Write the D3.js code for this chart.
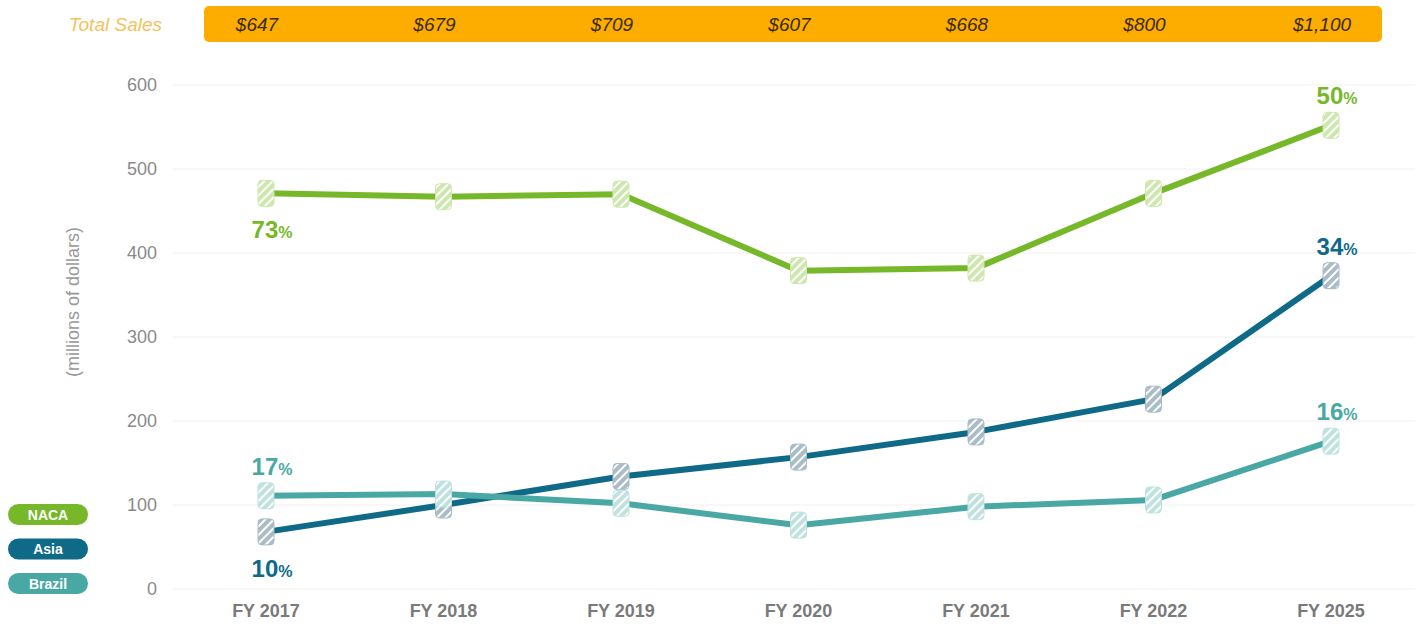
<!DOCTYPE html>
<html>
<head>
<meta charset="utf-8">
<script src="https://cdn.jsdelivr.net/npm/d3@7"></script>
<style>
  body { margin: 0; background: #fff; font-family: "Liberation Sans", Arial, sans-serif; }
</style>
</head>
<body>
<div class="canvas"></div>
<script>
var years = ['FY 2017', 'FY 2018', 'FY 2019', 'FY 2020', 'FY 2021', 'FY 2022', 'FY 2025'];
var totalSales = ['$647', '$679', '$709', '$607', '$668', '$800', '$1,100'];
var naca = [471, 467, 470, 379, 382, 471, 552];
var asia = [68, 100, 134, 157, 187, 226, 373];
var brazil = [111, 113, 102, 76, 98, 106, 176];
var yTicks = [0, 100, 200, 300, 400, 500, 600];

var series = [
  { name: 'NACA', values: naca, color: '#76b82a', light: '#cde7ae', first: '73', last: '50', firstPos: 'below', lastPos: 'above' },
  { name: 'Asia', values: asia, color: '#0e6a87', light: '#aabcc6', first: '10', last: '34', firstPos: 'below', lastPos: 'above' },
  { name: 'Brazil', values: brazil, color: '#4aa8a4', light: '#bfe2df', first: '17', last: '16', firstPos: 'above', lastPos: 'above' }
];

var width = 1423, height = 628;

var svg = d3.select('.canvas')
  .append('svg')
    .attr('width', width)
    .attr('height', height);

var x = d3.scalePoint()
  .domain(years)
  .range([266, 1331]);

var y = d3.scaleLinear()
  .domain([0, 600])
  .range([589, 85]);

// hatch patterns for the spool markers
var defs = svg.append('defs');
series.forEach(function(s, i) {
  var p = defs.append('pattern')
    .attr('id', 'hatch' + i)
    .attr('patternUnits', 'userSpaceOnUse')
    .attr('width', 6)
    .attr('height', 6)
    .attr('patternTransform', 'rotate(-45)');
  p.append('rect').attr('width', 6).attr('height', 6).attr('fill', s.light);
  p.append('line')
    .attr('x1', 0).attr('y1', 3).attr('x2', 6).attr('y2', 3)
    .attr('stroke', '#fff').attr('stroke-width', 2);
});

// grid
svg.append('g')
  .selectAll('line')
  .data(yTicks)
  .enter()
  .append('line')
    .attr('x1', 173)
    .attr('x2', 1415)
    .attr('y1', function(d) { return y(d); })
    .attr('y2', function(d) { return y(d); })
    .attr('stroke', '#f0f0f0')
    .attr('stroke-width', 1);

// y axis labels
svg.append('g')
  .selectAll('text')
  .data(yTicks)
  .enter()
  .append('text')
    .attr('x', 157)
    .attr('y', function(d) { return y(d) + 6; })
    .attr('text-anchor', 'end')
    .attr('font-size', 18)
    .attr('fill', '#8a8a8a')
    .text(function(d) { return d; });

svg.append('text')
  .attr('transform', 'translate(79,302) rotate(-90)')
  .attr('text-anchor', 'middle')
  .attr('font-size', 18)
  .attr('fill', '#999')
  .text('(millions of dollars)');

// x axis labels
svg.append('g')
  .selectAll('text')
  .data(years)
  .enter()
  .append('text')
    .attr('x', function(d) { return x(d); })
    .attr('y', 617)
    .attr('text-anchor', 'middle')
    .attr('font-size', 18)
    .attr('font-weight', 'bold')
    .attr('fill', '#7a7a7a')
    .text(function(d) { return d; });

// total sales band
svg.append('text')
  .attr('x', 162)
  .attr('y', 31)
  .attr('text-anchor', 'end')
  .attr('font-size', 19)
  .attr('font-style', 'italic')
  .attr('fill', '#f2c25c')
  .text('Total Sales');

svg.append('rect')
  .attr('x', 204)
  .attr('y', 6)
  .attr('width', 1178)
  .attr('height', 36)
  .attr('rx', 5)
  .attr('fill', '#fdad00');

svg.append('g')
  .selectAll('text')
  .data(totalSales)
  .enter()
  .append('text')
    .attr('x', function(d, i) { return x(years[i]) - 9; })
    .attr('y', 31)
    .attr('text-anchor', 'middle')
    .attr('font-size', 19)
    .attr('font-style', 'italic')
    .attr('fill', '#3a2a00')
    .text(function(d) { return d; });

// lines
var line = d3.line()
  .x(function(d, i) { return x(years[i]); })
  .y(function(d) { return y(d); });

series.forEach(function(s) {
  svg.append('path')
    .datum(s.values)
    .attr('d', line)
    .attr('fill', 'none')
    .attr('stroke', s.color)
    .attr('stroke-width', 6)
    .attr('stroke-linejoin', 'round');
});

// spool markers
series.forEach(function(s, i) {
  svg.append('g')
    .selectAll('rect')
    .data(s.values)
    .enter()
    .append('rect')
      .attr('x', function(d, j) { return x(years[j]) - 8; })
      .attr('y', function(d) { return y(d) - 13; })
      .attr('width', 16)
      .attr('height', 26)
      .attr('rx', 4)
      .attr('fill', 'url(#hatch' + i + ')')
      .attr('stroke', s.light)
      .attr('stroke-width', 1);
});

// percentage labels
function pctLabel(s, idx, txt, pos) {
  var v = s.values[idx];
  var ty = pos === 'above' ? y(v) - 21 : y(v) + 45;
  var t = svg.append('text')
    .attr('x', x(years[idx]) + 6)
    .attr('y', ty)
    .attr('text-anchor', 'middle')
    .attr('font-weight', 'bold')
    .attr('fill', s.color);
  t.append('tspan').attr('font-size', 24).text(txt);
  t.append('tspan').attr('font-size', 16).text('%');
}
series.forEach(function(s) {
  pctLabel(s, 0, s.first, s.firstPos);
  pctLabel(s, s.values.length - 1, s.last, s.lastPos);
});

// legend pills
var legend = svg.append('g')
  .selectAll('g')
  .data(series)
  .enter()
  .append('g')
    .attr('transform', function(d, i) { return 'translate(8,' + (504 + i * 34.5) + ')'; });

legend.append('rect')
  .attr('width', 80)
  .attr('height', 21)
  .attr('rx', 10.5)
  .attr('fill', function(d) { return d.color; });

legend.append('text')
  .attr('x', 40)
  .attr('y', 15.5)
  .attr('text-anchor', 'middle')
  .attr('font-size', 14)
  .attr('font-weight', 'bold')
  .attr('fill', '#fff')
  .text(function(d) { return d.name; });
</script>
</body>
</html>
